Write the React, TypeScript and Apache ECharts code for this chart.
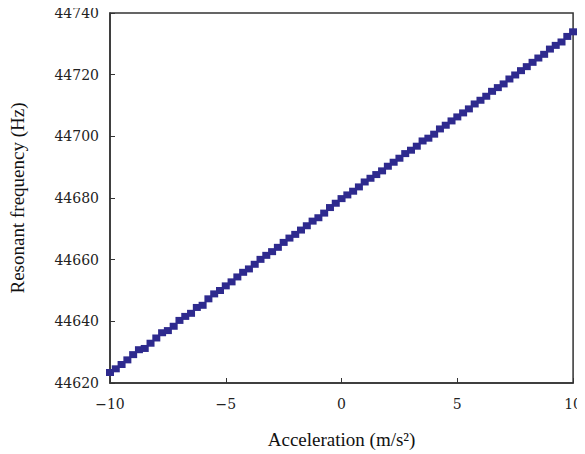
import React, { useEffect, useRef } from "react";
import * as echarts from "echarts";

const accel = [
  -10, -9.75, -9.5, -9.25, -9, -8.75, -8.5, -8.25, -8, -7.75,
  -7.5, -7.25, -7, -6.75, -6.5, -6.25, -6, -5.75, -5.5, -5.25,
  -5, -4.75, -4.5, -4.25, -4, -3.75, -3.5, -3.25, -3, -2.75,
  -2.5, -2.25, -2, -1.75, -1.5, -1.25, -1, -0.75, -0.5, -0.25,
  0, 0.25, 0.5, 0.75, 1, 1.25, 1.5, 1.75, 2, 2.25,
  2.5, 2.75, 3, 3.25, 3.5, 3.75, 4, 4.25, 4.5, 4.75,
  5, 5.25, 5.5, 5.75, 6, 6.25, 6.5, 6.75, 7, 7.25,
  7.5, 7.75, 8, 8.25, 8.5, 8.75, 9, 9.25, 9.5, 9.75, 10,
];

const freq = [
  44623.4, 44624.6, 44626.0, 44627.5, 44629.2, 44630.8, 44631.2, 44632.9, 44634.6, 44636.3,
  44637.0, 44638.4, 44640.3, 44641.6, 44642.6, 44644.5, 44645.2, 44647.3, 44648.9, 44650.0,
  44651.5, 44652.8, 44654.4, 44655.9, 44657.0, 44658.5, 44660.1, 44661.4, 44662.6, 44664.0,
  44665.6, 44667.0, 44668.2, 44669.6, 44671.0, 44672.5, 44673.6, 44675.1, 44676.9, 44678.3,
  44679.8, 44681.0, 44682.2, 44683.6, 44685.2, 44686.4, 44687.6, 44688.8, 44690.3, 44691.6,
  44692.9, 44694.4, 44695.5, 44696.8, 44698.5, 44699.4, 44700.7, 44702.4, 44703.6, 44705.0,
  44706.3, 44707.6, 44708.9, 44710.5, 44711.7, 44713.0, 44714.6, 44715.8, 44717.0, 44718.6,
  44719.9, 44721.3, 44722.6, 44724.0, 44725.4, 44726.6, 44728.3, 44729.5, 44730.6, 44732.4, 44733.9,
];

const xTicks = [-10, -5, 0, 5, 10];
const yTicks = [44620, 44640, 44660, 44680, 44700, 44720, 44740];

export default function App() {
  const ref = useRef<HTMLDivElement>(null);
  useEffect(() => {
    if (!ref.current) return;
    const chart = echarts.init(ref.current, null, { renderer: "svg" });
    const data = accel.map((a, i) => [a, freq[i]]);
    const tickFont = "'DejaVu Serif', 'Liberation Serif', serif";
    const nameFont = "'Liberation Serif', serif";
    chart.setOption({
      animation: false,
      backgroundColor: "#ffffff",
      grid: {
        left: 102,
        right: 7,
        top: 13,
        bottom: 66,
        show: true,
        borderColor: "#333",
        borderWidth: 1.5,
        backgroundColor: "transparent",
      },
      xAxis: {
        type: "value",
        min: xTicks[0],
        max: xTicks[xTicks.length - 1],
        interval: 5,
        name: "Acceleration (m/s²)",
        nameLocation: "middle",
        nameGap: 47,
        nameTextStyle: { fontFamily: nameFont, fontSize: 19, color: "#111" },
        axisLine: { show: true, onZero: false, lineStyle: { color: "#333", width: 1.5 } },
        axisTick: { show: true, inside: true, length: 5, lineStyle: { color: "#333" } },
        axisLabel: {
          fontFamily: tickFont,
          fontSize: 14,
          color: "#222",
          margin: 14,
          formatter: (v: number) => String(v).replace("-", "\u2212"),
        },
        splitLine: { show: false },
      },
      yAxis: {
        type: "value",
        min: yTicks[0],
        max: yTicks[yTicks.length - 1],
        interval: 20,
        name: "Resonant frequency (Hz)",
        nameLocation: "middle",
        nameGap: 83,
        nameTextStyle: { fontFamily: nameFont, fontSize: 19, color: "#111" },
        axisLine: { show: true, onZero: false, lineStyle: { color: "#333", width: 1.5 } },
        axisTick: { show: true, inside: true, length: 5, lineStyle: { color: "#333" } },
        axisLabel: {
          fontFamily: tickFont,
          fontSize: 14,
          color: "#222",
          margin: 11,
          formatter: (v: number) => String(v),
        },
        splitLine: { show: false },
      },
      series: [
        {
          type: "scatter",
          data,
          symbol: "rect",
          symbolSize: [8, 7],
          itemStyle: { color: "#2e2a8e", opacity: 1 },
        },
      ],
    });
    return () => chart.dispose();
  }, []);
  return <div ref={ref} style={{ width: 585, height: 454, marginLeft: -8, marginTop: -8 }} />;
}
